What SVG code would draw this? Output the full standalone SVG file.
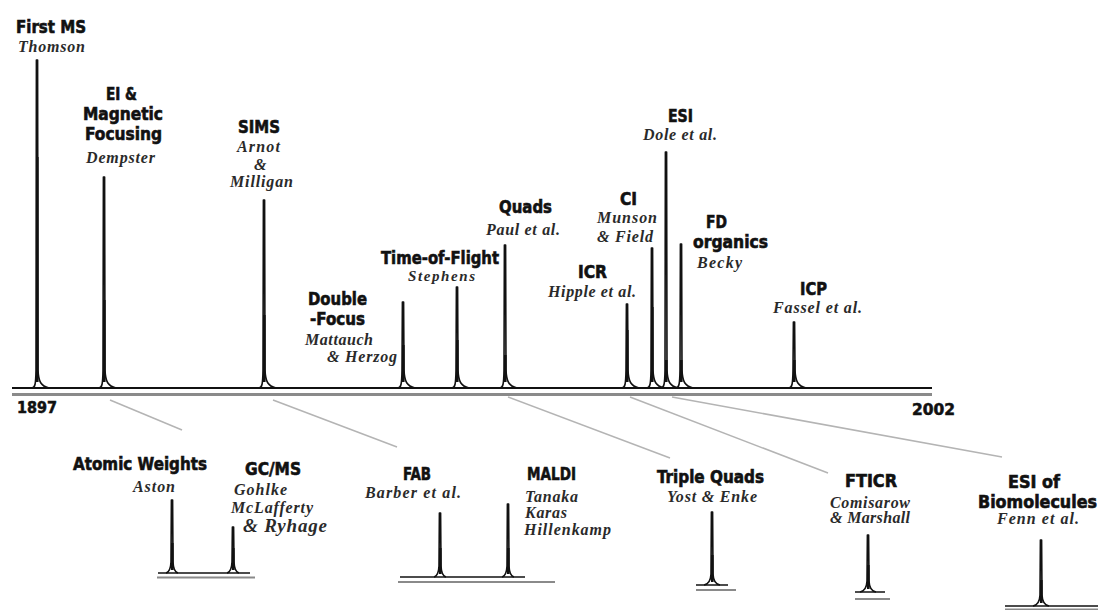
<svg xmlns="http://www.w3.org/2000/svg" width="1098" height="610" viewBox="0 0 1098 610">
<style>
.b{font-family:'DejaVu Sans Condensed','Liberation Sans',sans-serif;font-weight:bold;font-size:18px;fill:#111;stroke:#111;stroke-width:0.6}
.y{font-family:'DejaVu Sans Condensed','Liberation Sans',sans-serif;font-weight:bold;font-size:15px;fill:#111;stroke:#111;stroke-width:0.5}
.i{font-family:'Liberation Serif',serif;font-style:italic;font-weight:bold;font-size:16px;fill:#2a2a2a}
.pk{fill:none;stroke:#111;stroke-width:1.6;stroke-linejoin:round}
.sh{stroke:#111;stroke-width:2.6;fill:none}
.tr{stroke:#111;stroke-width:2;fill:none}
.ax{stroke:#8a8a8a;stroke-width:3;fill:none}
.ax2{stroke:#8a8a8a;stroke-width:2;fill:none}
.cn{stroke:#b4b4b4;stroke-width:1.5;fill:none}
</style>
<rect width="1098" height="610" fill="#fff"/>

<g id="connectors">
<line class="cn" x1="110" y1="400" x2="182" y2="430"/>
<line class="cn" x1="273" y1="400" x2="397" y2="447"/>
<line class="cn" x1="508" y1="397" x2="670" y2="458"/>
<line class="cn" x1="630" y1="397" x2="828" y2="473"/>
<line class="cn" x1="672" y1="397" x2="1002" y2="457"/>
</g>

<g id="timeline">
<path class="tr" d="M12,388 H932"/>
<path class="ax" d="M12,394.5 H932"/>
<text class="y" x="17" y="413" textLength="40" lengthAdjust="spacingAndGlyphs">1897</text>
<text class="y" x="912" y="415" textLength="43" lengthAdjust="spacingAndGlyphs">2002</text>
</g>

<g id="first-ms">
<path class="pk" d="M32,388 C35,388 35.8,384 36,370 L36.4,60 L37.6,60 L38,370 C38.5,382 41,386 49,388"/>
<path class="sh" d="M37.3,157 V382"/>
<text class="b" x="16" y="33" textLength="70" lengthAdjust="spacingAndGlyphs">First MS</text>
<text class="i" x="18" y="52" textLength="67">Thomson</text>
</g>

<g id="ei">
<path class="pk" d="M99,388 C102,388 102.8,384 103,370 L103.4,177 L104.6,177 L105,370 C105.5,382 108,386 116,388"/>
<path class="sh" d="M104.3,300 V382"/>
<text class="b" x="106" y="100" textLength="31" lengthAdjust="spacingAndGlyphs">EI &amp;</text>
<text class="b" x="83" y="120" textLength="80" lengthAdjust="spacingAndGlyphs">Magnetic</text>
<text class="b" x="85" y="140" textLength="77" lengthAdjust="spacingAndGlyphs">Focusing</text>
<text class="i" x="86" y="163" textLength="69">Dempster</text>
</g>

<g id="sims">
<path class="pk" d="M259,388 C262,388 262.8,384 263,370 L263.4,200 L264.6,200 L265,370 C265.5,382 268,386 276,388"/>
<path class="sh" d="M264.3,315 V382"/>
<text class="b" x="238" y="133" textLength="42" lengthAdjust="spacingAndGlyphs">SIMS</text>
<text class="i" x="237" y="152" textLength="43">Arnot</text>
<text class="i" x="254" y="170">&amp;</text>
<text class="i" x="230" y="187" textLength="63">Milligan</text>
</g>

<g id="double-focus">
<path class="pk" d="M398,388 C401,388 401.8,384 402,370 L402.4,302 L403.6,302 L404,370 C404.5,382 407,386 415,388"/>
<path class="sh" d="M403.3,345 V382"/>
<text class="b" x="308" y="305" textLength="59" lengthAdjust="spacingAndGlyphs">Double</text>
<text class="b" x="310" y="325" textLength="55" lengthAdjust="spacingAndGlyphs">-Focus</text>
<text class="i" x="305" y="345" textLength="68">Mattauch</text>
<text class="i" x="327" y="362" textLength="70">&amp; Herzog</text>
</g>

<g id="time-of-flight">
<path class="pk" d="M452,388 C455,388 455.8,384 456,370 L456.4,287 L457.6,287 L458,370 C458.5,382 461,386 469,388"/>
<path class="sh" d="M457.3,340 V382"/>
<text class="b" x="381" y="264" textLength="118" lengthAdjust="spacingAndGlyphs">Time-of-Flight</text>
<text class="i" x="408" y="281" textLength="67" style="font-size:15px">Stephens</text>
</g>

<g id="quads">
<path class="pk" d="M500,388 C503,388 503.8,384 504,370 L504.4,245 L505.6,245 L506,370 C506.5,382 509,386 517,388"/>
<path class="sh" d="M505.3,355 V382"/>
<text class="b" x="499" y="213" textLength="53" lengthAdjust="spacingAndGlyphs">Quads</text>
<text class="i" x="486" y="235" textLength="74">Paul et al.</text>
</g>

<g id="icr">
<path class="pk" d="M622,388 C625,388 625.8,384 626,370 L626.4,304 L627.6,304 L628,370 C628.5,382 631,386 639,388"/>
<path class="sh" d="M627.3,330 V382"/>
<text class="b" x="578" y="278" textLength="29" lengthAdjust="spacingAndGlyphs">ICR</text>
<text class="i" x="548" y="297" textLength="88">Hipple et al.</text>
</g>

<g id="ci">
<path class="pk" d="M647,388 C650,388 650.8,384 651,370 L651.4,248 L652.6,248 L653,370 C653.5,382 656,386 664,388"/>
<path class="sh" d="M652.3,307 V382"/>
<text class="b" x="620" y="205" textLength="17" lengthAdjust="spacingAndGlyphs">CI</text>
<text class="i" x="597" y="223" textLength="60">Munson</text>
<text class="i" x="597" y="242" textLength="56">&amp; Field</text>
</g>

<g id="esi">
<path class="pk" d="M661,388 C664,388 664.8,384 665,370 L665.4,152 L666.6,152 L667,370 C667.5,382 670,386 678,388"/>
<path class="sh" d="M666.3,360 V382"/>
<text class="b" x="668" y="122" textLength="25" lengthAdjust="spacingAndGlyphs">ESI</text>
<text class="i" x="643" y="140" textLength="74">Dole et al.</text>
</g>

<g id="fd">
<path class="pk" d="M676,388 C679,388 679.8,384 680,370 L680.4,244 L681.6,244 L682,370 C682.5,382 685,386 693,388"/>
<path class="sh" d="M681.3,360 V382"/>
<text class="b" x="706" y="228" textLength="21" lengthAdjust="spacingAndGlyphs">FD</text>
<text class="b" x="693" y="248" textLength="75" lengthAdjust="spacingAndGlyphs">organics</text>
<text class="i" x="697" y="268" textLength="45">Becky</text>
</g>

<g id="icp">
<path class="pk" d="M789,388 C792,388 792.8,384 793,370 L793.4,322 L794.6,322 L795,370 C795.5,382 798,386 806,388"/>
<path class="sh" d="M794.3,360 V382"/>
<text class="b" x="800" y="295" textLength="27" lengthAdjust="spacingAndGlyphs">ICP</text>
<text class="i" x="773" y="313" textLength="89">Fassel et al.</text>
</g>

<g id="atomic-weights-gcms">
<path class="tr" d="M158,573 H250" style="stroke-width:1.5"/>
<path class="ax2" d="M157,577.5 H255"/>
<path class="pk" d="M166,573 Q170.5,572 171,562 L171.4,500 L172.6,500 L173,562 Q173.5,572 178,573"/>
<path class="sh" d="M172.3,543 V570"/>
<path class="pk" d="M227,573 Q231.5,572 232,562 L232.4,527 L233.6,527 L234,562 Q234.5,572 239,573"/>
<path class="sh" d="M233.3,548 V570"/>
<text class="b" x="73" y="470" textLength="134" lengthAdjust="spacingAndGlyphs">Atomic Weights</text>
<text class="i" x="133" y="492" textLength="42">Aston</text>
<text class="b" x="245" y="475" textLength="56" lengthAdjust="spacingAndGlyphs">GC/MS</text>
<text class="i" x="234" y="495" textLength="53">Gohlke</text>
<text class="i" x="231" y="513" textLength="82">McLafferty</text>
<text class="i" x="243" y="532" textLength="84" style="font-size:19px">&amp; Ryhage</text>
</g>

<g id="fab-maldi">
<path class="tr" d="M400,577 H525" style="stroke-width:1.5"/>
<path class="ax2" d="M398,582 H555"/>
<path class="pk" d="M434,577 Q438.5,576 439,566 L439.4,513 L440.6,513 L441,566 Q441.5,576 446,577"/>
<path class="sh" d="M440.3,548 V574"/>
<path class="pk" d="M502,577 Q506.5,576 507,566 L507.4,504 L508.6,504 L509,566 Q509.5,576 514,577"/>
<path class="sh" d="M508.3,548 V574"/>
<text class="b" x="403" y="480" textLength="28" lengthAdjust="spacingAndGlyphs">FAB</text>
<text class="i" x="365" y="498" textLength="96">Barber et al.</text>
<text class="b" x="527" y="480" textLength="49" lengthAdjust="spacingAndGlyphs">MALDI</text>
<text class="i" x="525" y="502" textLength="53">Tanaka</text>
<text class="i" x="525" y="518" textLength="42">Karas</text>
<text class="i" x="524" y="535" textLength="87">Hillenkamp</text>
</g>

<g id="triple-quads">
<path class="tr" d="M696,585 H728" style="stroke-width:1.5"/>
<path class="ax2" d="M696,590 H736"/>
<path class="pk" d="M704,585 Q710.5,584 711,574 L711.4,512 L712.6,512 L713,574 Q713.5,584 720,585"/>
<path class="sh" d="M712.3,555 V582"/>
<text class="b" x="657" y="483" textLength="107" lengthAdjust="spacingAndGlyphs">Triple Quads</text>
<text class="i" x="667" y="502" textLength="90">Yost &amp; Enke</text>
</g>

<g id="fticr">
<path class="tr" d="M855,592 H885" style="stroke-width:1.5"/>
<path class="ax2" d="M855,599 H890"/>
<path class="pk" d="M860,592 Q866.5,591 867,581 L867.4,535 L868.6,535 L869,581 Q869.5,591 876,592"/>
<path class="sh" d="M868.3,565 V589"/>
<text class="b" x="845" y="487" textLength="52" lengthAdjust="spacingAndGlyphs">FTICR</text>
<text class="i" x="830" y="508" textLength="80">Comisarow</text>
<text class="i" x="830" y="523" textLength="80">&amp; Marshall</text>
</g>

<g id="esi-biomolecules">
<path class="tr" d="M1005,606 H1098" style="stroke-width:1.5"/>
<path class="ax2" d="M1005,609.5 H1098"/>
<path class="pk" d="M1033,606 Q1039.5,605 1040,595 L1040.4,540 L1041.6,540 L1042,595 Q1042.5,605 1049,606"/>
<path class="sh" d="M1041.3,580 V603"/>
<text class="b" x="1008" y="488" textLength="52" lengthAdjust="spacingAndGlyphs">ESI of</text>
<text class="b" x="978" y="508" textLength="119" lengthAdjust="spacingAndGlyphs">Biomolecules</text>
<text class="i" x="997" y="524" textLength="82">Fenn et al.</text>
</g>
</svg>
